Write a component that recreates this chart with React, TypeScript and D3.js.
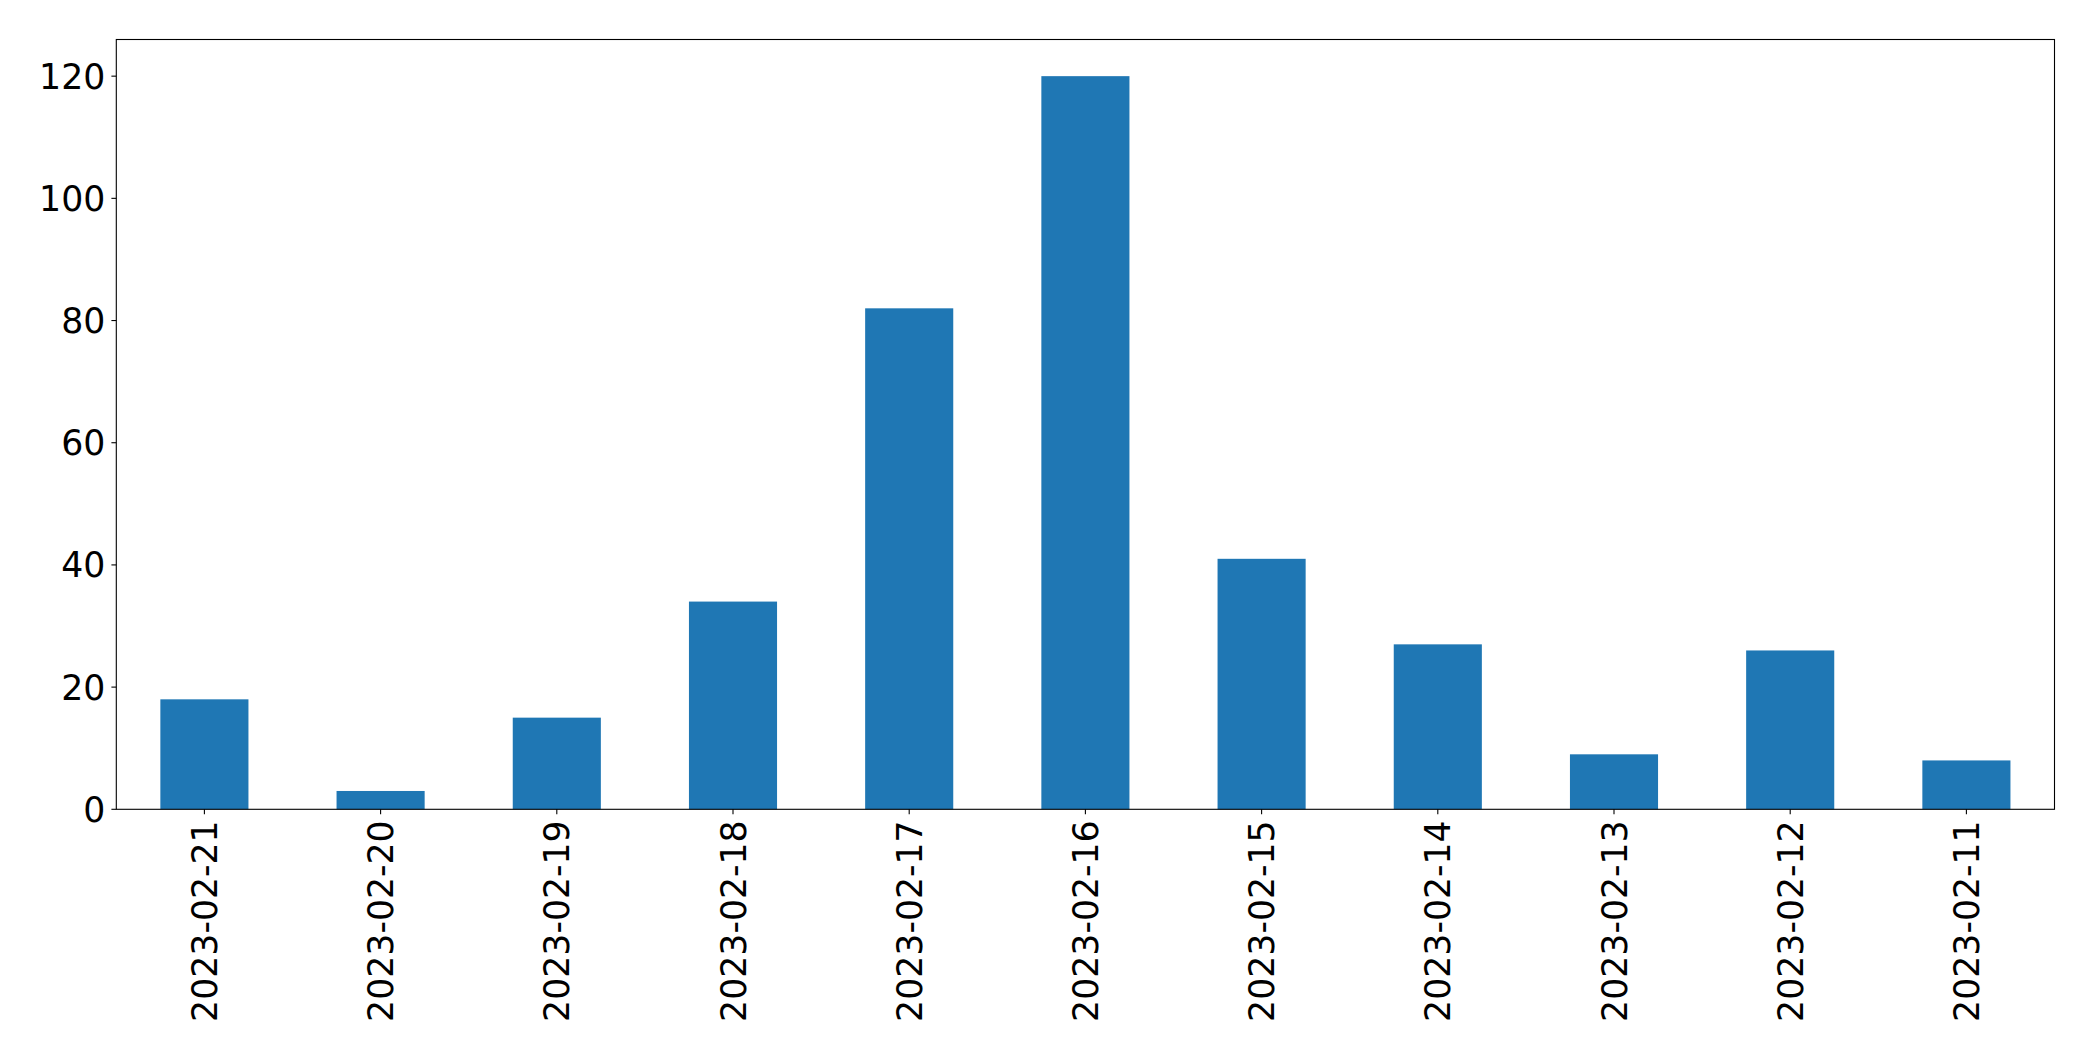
import React from "react";
import * as d3 from "d3";

const categories = ["2023-02-21","2023-02-20","2023-02-19","2023-02-18","2023-02-17","2023-02-16","2023-02-15","2023-02-14","2023-02-13","2023-02-12","2023-02-11"];
const values = [18, 3, 15, 34, 82, 120, 41, 27, 9, 26, 8];
const yTicks = [0, 20, 40, 60, 80, 100, 120];

export default function App() {
  const W = 2093, H = 1061;
  const left = 116.3, right = 2054.5, top = 39.5, bottom = 809.3;
  const x = d3.scaleLinear().domain([-0.5, categories.length - 0.5]).range([left, right]);
  const y = d3.scaleLinear().domain([0, d3.max(values)! * 1.05]).range([bottom, top]);
  const fs = 34.7;
  const font = "DejaVu Sans";
  return (
    <svg width={W} height={H} style={{ position: "absolute", left: 0, top: 0, background: "#fff" }}>
      <rect x={0} y={0} width={W} height={H} fill="#fff" />
      {values.map((v, i) => (
        <rect key={i} x={x(i - 0.25)} y={y(v)} width={x(i + 0.25) - x(i - 0.25)} height={y(0) - y(v)} fill="#1f77b4" />
      ))}
      <rect x={left} y={top} width={right - left} height={bottom - top} fill="none" stroke="#000" strokeWidth={1.1} />
      {yTicks.map((t) => (
        <g key={t}>
          <line x1={left - 4.9} x2={left} y1={y(t)} y2={y(t)} stroke="#000" strokeWidth={1.1} />
          <text x={left - 11} y={y(t)} dy="0.36em" textAnchor="end" fontFamily={font} fontSize={fs} fill="#000">{t}</text>
        </g>
      ))}
      {categories.map((c, i) => (
        <g key={c}>
          <line x1={x(i)} x2={x(i)} y1={bottom} y2={bottom + 4.9} stroke="#000" strokeWidth={1.1} />
          <text transform={`translate(${x(i)},${bottom + 11}) rotate(-90)`} dy="0.36em" textAnchor="end" fontFamily={font} fontSize={fs} fill="#000">{c}</text>
        </g>
      ))}
    </svg>
  );
}
